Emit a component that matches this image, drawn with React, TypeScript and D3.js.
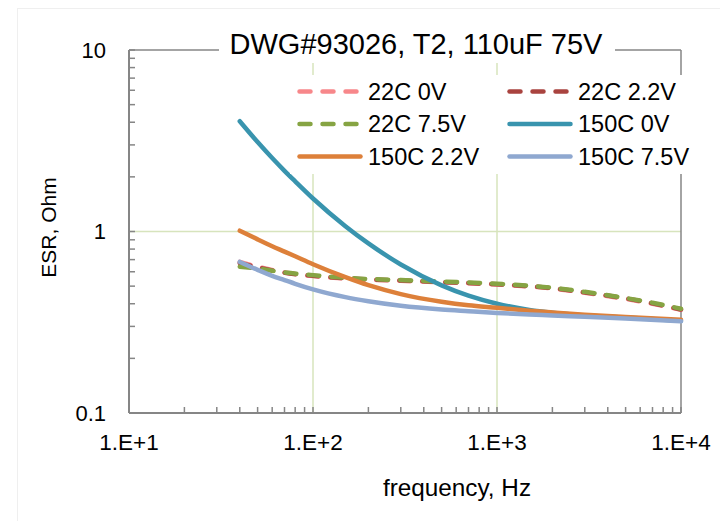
import React from "react";
import * as d3 from "d3";

const xTickValues = [10, 100, 1000, 10000];
const xTickLabels = ["1.E+1", "1.E+2", "1.E+3", "1.E+4"];
const yTickValues = [0.1, 1, 10];
const yTickLabels = ["0.1", "1", "10"];

const seriesNames = ["22C 0V", "22C 2.2V", "22C 7.5V", "150C 0V", "150C 2.2V", "150C 7.5V"];
const seriesColors = ["#f7878a", "#a9433f", "#86a443", "#3994ae", "#dd803a", "#8fa8d0"];
const seriesDashed = [true, true, true, false, false, false];

const freq22 = [40, 50, 70, 100, 180, 300, 500, 1000, 2000, 3000, 5000, 7000, 10000];
const esr22C0V = [0.68, 0.64, 0.595, 0.568, 0.545, 0.535, 0.525, 0.51, 0.485, 0.46, 0.425, 0.4, 0.37];
const esr22C22V = [0.67, 0.635, 0.592, 0.57, 0.547, 0.537, 0.527, 0.512, 0.487, 0.462, 0.428, 0.402, 0.372];
const esr22C75V = [0.64, 0.625, 0.595, 0.575, 0.55, 0.54, 0.53, 0.515, 0.49, 0.465, 0.43, 0.405, 0.375];

const freq150 = [40, 50, 60, 70, 80, 100, 150, 200, 300, 500, 700, 1000, 1500, 2000, 3000, 5000, 10000];
const esr150C0V = [4.05, 3.11, 2.54, 2.16, 1.89, 1.52, 1.07, 0.86, 0.658, 0.505, 0.443, 0.4, 0.37, 0.357, 0.345, 0.336, 0.322];
const esr150C22V = [1.01, 0.905, 0.83, 0.775, 0.73, 0.66, 0.56, 0.506, 0.452, 0.41, 0.392, 0.38, 0.366, 0.358, 0.348, 0.338, 0.326];
const esr150C75V = [0.68, 0.615, 0.57, 0.54, 0.515, 0.48, 0.435, 0.413, 0.39, 0.372, 0.364, 0.356, 0.349, 0.345, 0.339, 0.332, 0.32];

const seriesFreqs = [freq22, freq22, freq22, freq150, freq150, freq150];
const seriesValues = [esr22C0V, esr22C22V, esr22C75V, esr150C0V, esr150C22V, esr150C75V];

const titleText = "DWG#93026, T2, 110uF 75V";
const xTitle = "frequency, Hz";
const yTitle = "ESR, Ohm";

const FONT = "'Liberation Sans', Arial, sans-serif";

export default function App() {
  const W = 720, H = 521;
  const left = 129, right = 681, top = 50, bottom = 413;
  const x = d3.scaleLog().domain([10, 10000]).range([left, right]);
  const y = d3.scaleLog().domain([0.1, 10]).range([bottom, top]);
  const axisColor = "#868686";
  const gridColor = "#d7e4bd";

  const line = d3
    .line<[number, number]>()
    .x((d) => x(d[0]))
    .y((d) => y(d[1]))
    .curve(d3.curveMonotoneX);

  const xMinor = x.ticks();
  const yMinor = y.ticks();

  const legendRows = [91.5, 124, 156.5];
  const legendCols = [297, 507];
  const legendTextDx = 71;

  return (
    <svg
      width={W}
      height={H}
      style={{ position: "absolute", left: 0, top: 0, background: "#fff" }}
      fontFamily={FONT}
    >
      <rect x={0} y={0} width={W} height={H} fill="#fff" />
      <rect x={17.5} y={8.5} width={W} height={H} fill="none" stroke="#efefef" strokeWidth={1} />

      {/* gridlines */}
      {[100, 1000].map((v) => (
        <line key={"gx" + v} x1={x(v)} x2={x(v)} y1={top} y2={bottom} stroke={gridColor} strokeWidth={1.5} />
      ))}
      <line x1={left} x2={right} y1={y(1)} y2={y(1)} stroke={gridColor} strokeWidth={1.5} />

      {/* plot border */}
      <line x1={left} x2={right} y1={top} y2={top} stroke={axisColor} strokeWidth={1.5} />
      <line x1={right} x2={right} y1={top} y2={bottom} stroke={axisColor} strokeWidth={1.5} />

      {/* series */}
      {seriesValues.map((vals, i) => {
        const pts: [number, number][] = seriesFreqs[i].map((f, j) => [f, vals[j]]);
        return (
          <path
            key={"s" + i}
            d={line(pts) || ""}
            fill="none"
            stroke={seriesColors[i]}
            strokeWidth={4.5}
            strokeLinecap="round"
            strokeLinejoin="round"
            strokeDasharray={seriesDashed[i] ? "11 12" : undefined}
          />
        );
      })}

      {/* axes */}
      <line x1={left} x2={left} y1={top} y2={bottom} stroke={axisColor} strokeWidth={2} />
      <line x1={left} x2={right} y1={bottom} y2={bottom} stroke={axisColor} strokeWidth={2} />
      {yMinor.map((v, i) => (
        <line key={"yt" + i} x1={left} x2={left + 6} y1={y(v)} y2={y(v)} stroke={axisColor} strokeWidth={1.5} />
      ))}
      {xMinor.map((v, i) => (
        <line key={"xt" + i} x1={x(v)} x2={x(v)} y1={bottom} y2={bottom - 6} stroke={axisColor} strokeWidth={1.5} />
      ))}

      {/* tick labels */}
      {yTickValues.map((v, i) => (
        <text key={"yl" + i} x={106} y={y(v) + 7.8} textAnchor="end" fontSize={22} fill="#000">
          {yTickLabels[i]}
        </text>
      ))}
      {xTickValues.map((v, i) => (
        <text key={"xl" + i} x={x(v)} y={450} textAnchor="middle" fontSize={22.5} fill="#000">
          {xTickLabels[i]}
        </text>
      ))}

      {/* axis titles */}
      <text x={457} y={496} textAnchor="middle" fontSize={24.3} fill="#000">
        {xTitle}
      </text>
      <text
        transform={`translate(56,227.5) rotate(-90)`}
        textAnchor="middle"
        fontSize={21}
        fill="#000"
      >
        {yTitle}
      </text>

      {/* title */}
      <rect x={219} y={18} width={396} height={45} fill="#fff" />
      <text x={416} y={54} textAnchor="middle" fontSize={29} fill="#000">
        {titleText}
      </text>

      {/* legend */}
      <rect x={290} y={75} width={410} height={99} fill="#fff" />
      {seriesNames.map((name, i) => {
        const row = Math.floor(i / 2);
        const col = i % 2;
        const lx = legendCols[col];
        const ly = legendRows[row];
        return (
          <g key={"lg" + i}>
            <line
              x1={lx + 2.5}
              x2={lx + 63.5}
              y1={ly}
              y2={ly}
              stroke={seriesColors[i]}
              strokeWidth={4.5}
              strokeLinecap="round"
              strokeDasharray={seriesDashed[i] ? "11 12" : undefined}
            />
            <text x={lx + legendTextDx} y={ly + 8.3} fontSize={23.5} fill="#000">
              {name}
            </text>
          </g>
        );
      })}
    </svg>
  );
}
